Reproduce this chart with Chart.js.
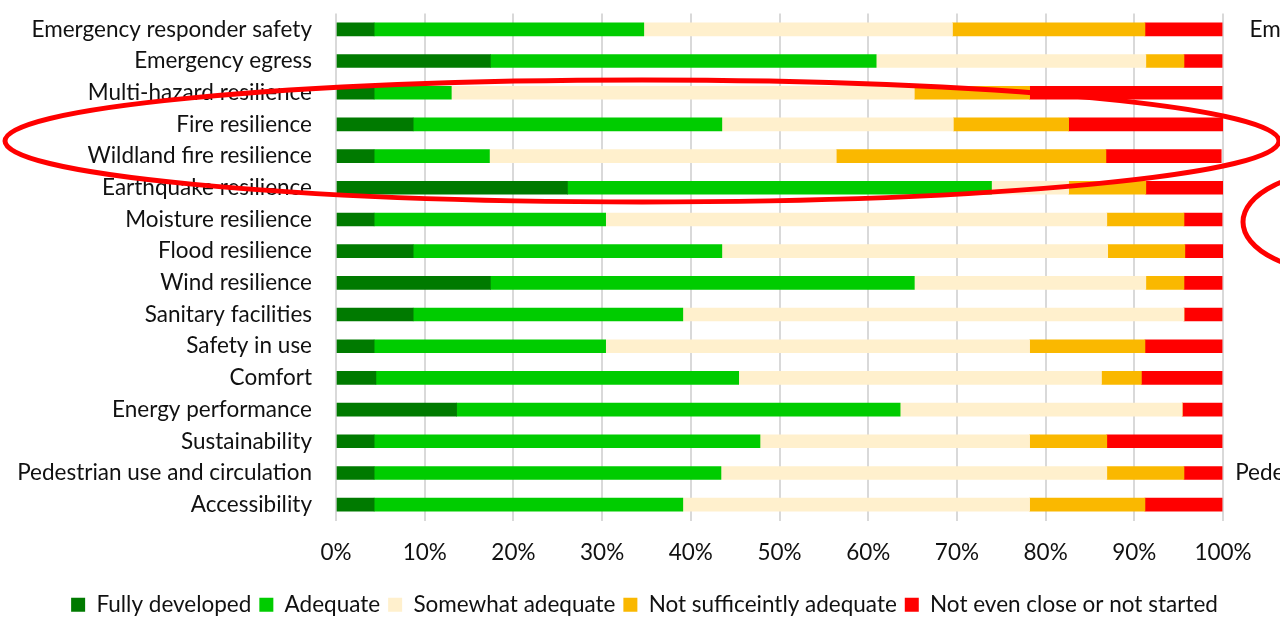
<!DOCTYPE html>
<html>
<head>
<meta charset="utf-8">
<script src="https://cdn.jsdelivr.net/npm/chart.js@4.4.1/dist/chart.umd.min.js"></script>
<style>
  html, body { margin: 0; padding: 0; background: #fff; }
  #wrap { width: 1280px; height: 620px; overflow: hidden; }
</style>
</head>
<body>
<div id="wrap"><canvas id="readiness" width="1280" height="620"></canvas></div>
<script>
const categories = [
  'Emergency responder safety', 'Emergency egress', 'Multi-hazard resilience',
  'Fire resilience', 'Wildland fire resilience', 'Earthquake resilience',
  'Moisture resilience', 'Flood resilience', 'Wind resilience',
  'Sanitary facilities', 'Safety in use', 'Comfort', 'Energy performance',
  'Sustainability', 'Pedestrian use and circulation', 'Accessibility'
];

// share of responses per category, in percent
const fullyDeveloped   = [4.3, 17.4, 4.3, 8.7, 4.3, 26.1, 4.3, 8.7, 17.4, 8.7, 4.3, 4.5, 13.6, 4.3, 4.3, 4.3];
const adequate         = [30.4, 43.5, 8.7, 34.8, 13.0, 47.8, 26.1, 34.8, 47.8, 30.4, 26.1, 40.9, 50.0, 43.5, 39.1, 34.8];
const somewhatAdequate = [34.8, 30.4, 52.2, 26.1, 39.1, 8.7, 56.5, 43.5, 26.1, 56.5, 47.8, 40.9, 31.8, 30.4, 43.5, 39.1];
const notSufficient    = [21.7, 4.3, 13.0, 13.0, 30.4, 8.7, 8.7, 8.7, 4.3, 0, 13.0, 4.5, 0, 8.7, 8.7, 13.0];
const notStarted       = [8.7, 4.3, 21.7, 17.4, 13.0, 8.7, 4.3, 4.3, 4.3, 4.3, 8.7, 9.1, 4.5, 13.0, 4.3, 8.7];

const seriesNames = ['Fully developed', 'Adequate', 'Somewhat adequate', 'Not sufficeintly adequate', 'Not even close or not started'];
const xTicks = [0, 10, 20, 30, 40, 50, 60, 70, 80, 90, 100];

const colors = ['#007a00', '#00cc00', '#fff0cd', '#fab800', '#ff0000'];
const textFont = { family: 'Lato', size: 22.5 };
const ink = '#111';

// nudge the legend a little right and down from where the layout puts it
const legendNudge = {
  id: 'legendNudge',
  afterLayout(chart) {
    const lg = chart.legend;
    lg.left += 33; lg.right += 33;
    lg.top += 6; lg.bottom += 6;
  }
};

// red rings marked over the chart, plus the edge of the next panel's labels
const markup = {
  id: 'markup',
  afterDraw(chart) {
    const { ctx, scales: { y } } = chart;
    ctx.save();
    ctx.font = '22.5px Lato';
    ctx.fillStyle = ink;
    ctx.textAlign = 'right';
    ctx.textBaseline = 'middle';
    categories.forEach((c, i) => ctx.fillText(c, 1530, y.getPixelForValue(i)));

    ctx.strokeStyle = '#ff0000';
    ctx.lineWidth = 5;
    ctx.beginPath();
    ctx.ellipse(642, 141, 637, 61, 0, 0, Math.PI * 2);
    ctx.stroke();
    ctx.beginPath();
    ctx.ellipse(1350, 222, 107, 52, 0, 0, Math.PI * 2);
    ctx.stroke();
    ctx.restore();
  }
};

const series = [fullyDeveloped, adequate, somewhatAdequate, notSufficient, notStarted];

new Chart(document.getElementById('readiness'), {
  type: 'bar',
  data: {
    labels: categories,
    datasets: series.map((values, i) => ({
      label: seriesNames[i],
      data: values,
      backgroundColor: colors[i],
      borderWidth: 0,
      barThickness: 13
    }))
  },
  options: {
    indexAxis: 'y',
    responsive: false,
    animation: false,
    layout: { padding: { top: 13, right: 57, left: 0, bottom: 0 } },
    scales: {
      x: {
        stacked: true,
        min: 0,
        max: 100,
        afterBuildTicks: s => { s.ticks = xTicks.map(v => ({ value: v })); },
        afterFit: s => { s.height = 59; },
        ticks: { callback: v => v + '%', font: textFont, color: ink, padding: 19, maxRotation: 0 },
        grid: { color: '#d9d9d9', lineWidth: 2, drawTicks: false },
        border: { display: false }
      },
      y: {
        stacked: true,
        afterFit: s => { s.width = 336; },
        // gap to the bars comes from an invisible tick mark, not tick padding
        ticks: { font: textFont, color: ink, padding: 0 },
        grid: { display: false, drawTicks: true, tickLength: 24 },
        border: { display: false }
      }
    },
    plugins: {
      legend: {
        position: 'bottom',
        labels: { boxWidth: 14, boxHeight: 14, font: textFont, color: ink, padding: 8 }
      },
      tooltip: { enabled: false }
    }
  },
  plugins: [legendNudge, markup]
});
</script>
</body>
</html>
